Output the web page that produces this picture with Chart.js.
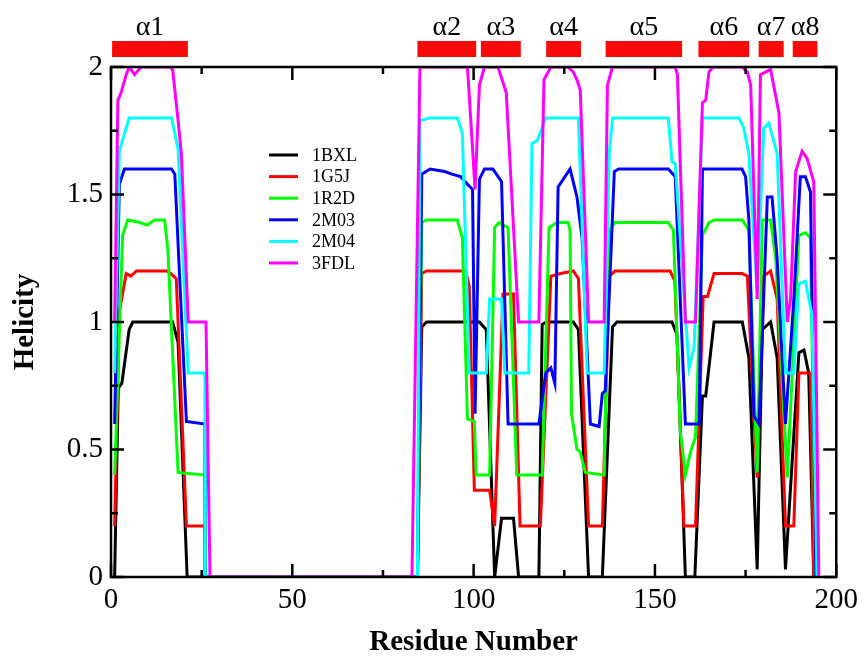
<!DOCTYPE html>
<html>
<head>
<meta charset="utf-8">
<script src="https://cdn.jsdelivr.net/npm/chart.js@4.4.0/dist/chart.umd.min.js"></script>
<style>
    html, body { margin: 0; padding: 0; background: #fff; }
</style>
</head>
<body>
<canvas id="myChart" width="864" height="657"></canvas>
<script>
// helicity per residue, each protein shifted by 0.2
const names = ['1BXL', '1G5J', '1R2D', '2M03', '2M04', '3FDL'];
const colors = ['#000000', '#ff0000', '#00ff00', '#0000ff', '#00ffff', '#ff00ff'];

const res1BXL = [1, 2, 3, 5, 6, 17, 18.5, 21, 84.5, 85.7, 87, 101.6, 103.5, 105.8, 107.7, 111, 112.4, 118, 118.9, 120, 127.5, 128.9, 131.7, 135.5, 138.3, 139.5, 154.7, 156.1, 158.4, 161, 163.1, 164, 166.3, 174.1, 175.9, 178.2, 179.6, 181.9, 183.7, 186, 189.7, 191.1, 192.4, 193.8];
const hel1BXL = [0, 0.74, 0.76, 0.97, 1.0, 1.0, 0.92, 0, 0, 0.98, 1.0, 1.0, 0.97, 0, 0.23, 0.23, 0, 0, 0.99, 1.0, 1.0, 0.97, 0, 0, 0.98, 1.0, 1.0, 0.95, 0, 0, 0.71, 0.71, 1.0, 1.0, 0.86, 0.03, 0.97, 1.0, 0.86, 0.03, 0.88, 0.89, 0.8, 0];

const res1G5J = [1, 2.3, 4.2, 5.5, 7, 15.3, 16.5, 18, 20.8, 25.9, 26, 84.5, 85.7, 87, 97.8, 98.8, 100.2, 104.4, 105.8, 108.1, 111, 112.8, 118.4, 121.3, 124, 127.5, 128.9, 131.7, 135.5, 137.4, 139, 154.2, 155.5, 158, 161.2, 163.3, 164.5, 166.3, 174.1, 175.5, 177.3, 178.2, 180, 181.9, 183.7, 186, 188.3, 189.7, 192.9, 193.8];
const hel1G5J = [0.2, 1.04, 1.19, 1.18, 1.2, 1.2, 1.19, 1.17, 0.2, 0.2, 0, 0, 1.19, 1.2, 1.2, 1.14, 0.34, 0.34, 0.2, 1.11, 1.11, 0.2, 0.2, 1.18, 1.19, 1.2, 1.17, 0.2, 0.2, 1.18, 1.2, 1.2, 1.16, 0.2, 0.2, 1.1, 1.1, 1.19, 1.19, 1.18, 0.63, 0.39, 1.18, 1.2, 1.09, 0.2, 0.2, 0.8, 0.8, 0];

const res1R2D = [1, 3.2, 4.6, 8, 10, 12, 14.8, 15.7, 18.5, 25.9, 26, 84.5, 85.7, 87, 95.5, 96.9, 98.3, 100.2, 100.7, 104.4, 105.8, 107, 109.5, 111.9, 118.9, 120.8, 123, 126.1, 126.6, 127, 128.5, 129.4, 130.8, 136, 137.4, 139, 153.7, 155.1, 157, 158.4, 159.8, 161.2, 163.1, 164.9, 166.3, 174.1, 175.9, 178.2, 179.6, 181.9, 183.3, 186.5, 189.7, 191.5, 192.9, 194.3];
const hel1R2D = [0.4, 1.34, 1.4, 1.39, 1.38, 1.4, 1.4, 1.28, 0.41, 0.4, 0, 0, 1.39, 1.4, 1.4, 1.33, 0.62, 0.61, 0.4, 0.4, 1.37, 1.39, 1.37, 0.4, 0.4, 1.37, 1.39, 1.39, 1.36, 0.64, 0.5, 0.49, 0.41, 0.4, 1.36, 1.39, 1.39, 1.36, 0.57, 0.4, 0.49, 0.55, 1.34, 1.39, 1.4, 1.4, 1.36, 0.41, 1.4, 1.4, 1.25, 0.39, 1.34, 1.35, 1.33, 0];

const res2M03 = [1, 2.3, 3.7, 16.7, 17.6, 20.8, 25.9, 26, 84.5, 85.7, 88, 92, 94, 96.4, 98.3, 99.7, 100.4, 101.6, 103, 105.3, 107.7, 109.5, 118, 119.9, 121.3, 122.4, 123.3, 126.6, 128.5, 129.9, 132.2, 134.6, 135.5, 136.3, 138.8, 140, 153.7, 155.6, 158.4, 162.2, 163.1, 174, 175, 175.9, 177.3, 178.7, 181, 182.3, 183.7, 186, 188.3, 190.1, 191.5, 192.9, 194.4];
const hel2M03 = [0.6, 1.54, 1.6, 1.6, 1.58, 0.61, 0.6, 0, 0, 1.58, 1.6, 1.59, 1.58, 1.57, 1.54, 1.52, 0.64, 1.56, 1.6, 1.6, 1.55, 0.6, 0.6, 0.8, 0.82, 0.76, 1.53, 1.6, 1.49, 1.33, 0.6, 0.59, 0.72, 0.73, 1.59, 1.6, 1.6, 1.57, 0.6, 0.6, 1.6, 1.6, 1.57, 1.4, 0.63, 0.6, 1.49, 1.49, 1.25, 0.6, 1.09, 1.57, 1.57, 1.51, 0];

const res2M04 = [1, 2.3, 5, 16.7, 18.5, 21.3, 25.9, 26, 84.5, 85.2, 88, 95.5, 96.9, 98.8, 103.5, 104.4, 107.7, 108.6, 115.2, 116.1, 117.5, 119.9, 128.9, 131.3, 136, 137.4, 138.3, 153.7, 154.7, 155.6, 159.4, 160.8, 163.1, 173.2, 174.5, 175.9, 178.2, 180, 181.4, 183.7, 186, 188.3, 189.7, 191.5, 193.3, 194.7];
const hel2M04 = [0.8, 1.67, 1.8, 1.8, 1.68, 0.8, 0.8, 0, 0, 1.79, 1.8, 1.8, 1.74, 0.8, 0.8, 1.09, 1.09, 0.8, 0.8, 1.7, 1.71, 1.8, 1.8, 0.8, 0.8, 1.66, 1.8, 1.8, 1.63, 1.62, 0.82, 0.9, 1.8, 1.8, 1.76, 1.66, 1.12, 1.76, 1.78, 1.66, 0.8, 0.8, 1.15, 1.16, 1.03, 0];

const res3FDL = [1, 1.9, 2.8, 4.2, 5, 6.5, 8.3, 16.2, 17, 18.5, 19.4, 21.3, 26.2, 27.3, 83, 85.2, 98.3, 100.4, 101.6, 103, 106.7, 109, 112.4, 118, 119.4, 121.3, 126, 127.5, 128.5, 129.4, 131.7, 136, 136.9, 138.3, 155.6, 156.2, 158.4, 161.2, 163.1, 164, 164.9, 166, 174.1, 175.5, 176.4, 178.2, 179.1, 181.9, 184.2, 186.5, 187.4, 188.8, 190.6, 192, 193.8, 195.2];
const hel3FDL = [1.0, 1.87, 1.9, 1.97, 2.0, 1.97, 2.0, 2.0, 1.99, 1.79, 1.66, 1.0, 1.0, 0, 0, 2.0, 2.0, 1.52, 1.93, 2.0, 2.0, 1.9, 1.0, 1.0, 1.95, 2.0, 2.0, 1.98, 1.95, 1.91, 1.0, 1.0, 1.93, 2.0, 2.0, 1.97, 1.0, 1.0, 1.86, 1.87, 1.98, 2.0, 2.0, 1.98, 1.93, 1.09, 1.97, 1.99, 1.82, 1.0, 1.09, 1.59, 1.67, 1.64, 1.55, 0];

// helix ranges drawn above the plot
const helixLabels = ['α1', 'α2', 'α3', 'α4', 'α5', 'α6', 'α7', 'α8'];
const helixStart = [0.3, 84.5, 102, 120, 136.4, 162, 178.6, 188];
const helixEnd = [21.2, 100.7, 113, 129.6, 157.5, 176, 185.5, 194.8];

const xTicks = [0, 50, 100, 150, 200];
const yTicks = [0, 0.5, 1, 1.5, 2];

const seriesRes = [res1BXL, res1G5J, res1R2D, res2M03, res2M04, res3FDL];
const seriesHel = [hel1BXL, hel1G5J, hel1R2D, hel2M03, hel2M04, hel3FDL];

function toPoints(xs, ys) {
    return xs.map((x, i) => ({ x: x, y: ys[i] }));
}

const graceFrame = {
    id: 'graceFrame',
    afterDraw(chart) {
        const ctx = chart.ctx;
        const xs = chart.scales.x;
        const ys = chart.scales.y;
        const area = chart.chartArea;

        ctx.save();
        ctx.strokeStyle = '#000';
        ctx.lineWidth = 2.5;
        ctx.strokeRect(area.left, area.top, area.right - area.left, area.bottom - area.top);

        // inward ticks on all four sides
        ctx.lineWidth = 2.5;
        ctx.beginPath();
        for (let v = 0; v <= 200; v += 25) {
            const px = xs.getPixelForValue(v);
            const len = v % 50 === 0 ? 13 : 7;
            ctx.moveTo(px, area.bottom); ctx.lineTo(px, area.bottom - len);
            ctx.moveTo(px, area.top); ctx.lineTo(px, area.top + len);
        }
        for (let v = 0; v <= 2.0001; v += 0.25) {
            const py = ys.getPixelForValue(v);
            const len = Math.abs(v * 2 - Math.round(v * 2)) < 0.001 ? 13 : 7;
            ctx.moveTo(area.left, py); ctx.lineTo(area.left + len, py);
            ctx.moveTo(area.right, py); ctx.lineTo(area.right - len, py);
        }
        ctx.stroke();

        // helix bars and labels
        ctx.font = '28px "Liberation Serif", serif';
        ctx.textAlign = 'center';
        ctx.textBaseline = 'alphabetic';
        helixLabels.forEach((lab, i) => {
            const x0 = xs.getPixelForValue(helixStart[i]);
            const x1 = xs.getPixelForValue(helixEnd[i]);
            ctx.fillStyle = '#f60a0a';
            ctx.fillRect(x0, 41, x1 - x0, 16);
            ctx.fillStyle = '#000';
            ctx.fillText(lab, (x0 + x1) / 2, 35);
        });

        // legend
        ctx.font = '18px "Liberation Serif", serif';
        ctx.textAlign = 'left';
        ctx.textBaseline = 'middle';
        chart.data.datasets.forEach((ds, i) => {
            const y = 155 + i * 21.6;
            ctx.strokeStyle = ds.borderColor;
            ctx.lineWidth = 3;
            ctx.beginPath();
            ctx.moveTo(269, y);
            ctx.lineTo(298, y);
            ctx.stroke();
            ctx.fillStyle = '#000';
            ctx.fillText(ds.label, 312, y + 1);
        });
        ctx.restore();
    }
};

function buildGraphic() {
    const ctx = document.getElementById('myChart').getContext('2d');

    const datasets = names.map((name, i) => ({
        label: name,
        data: toPoints(seriesRes[i], seriesHel[i]),
        borderColor: colors[i],
        backgroundColor: colors[i],
        borderWidth: 3,
        pointRadius: 0,
        tension: 0,
        fill: false,
        order: names.length - i
    }));

    const config = {
        type: 'line',
        data: { datasets: datasets },
        options: {
            responsive: false,
            animation: false,
            devicePixelRatio: 1,
            layout: {
                padding: { top: 67, right: 24, left: 0, bottom: 0 }
            },
            plugins: {
                legend: { display: false },
                tooltip: { enabled: false }
            },
            scales: {
                x: {
                    type: 'linear',
                    min: 0,
                    max: 200,
                    afterBuildTicks: (scale) => {
                        scale.ticks = xTicks.map(v => ({ value: v }));
                    },
                    afterFit: (scale) => { scale.height = 80; },
                    grid: { display: false, drawTicks: false },
                    border: { display: false },
                    ticks: {
                        padding: 6,
                        color: '#000',
                        maxRotation: 0,
                        font: { family: '"Liberation Serif", serif', size: 29 }
                    },
                    title: {
                        display: true,
                        text: 'Residue Number',
                        color: '#000',
                        padding: { top: 0, bottom: -3 },
                        font: { family: '"Liberation Serif", serif', size: 29, weight: 'bold' }
                    }
                },
                y: {
                    type: 'linear',
                    min: 0,
                    max: 2,
                    afterBuildTicks: (scale) => {
                        scale.ticks = yTicks.map(v => ({ value: v }));
                    },
                    afterFit: (scale) => { scale.width = 111; },
                    grid: { display: false, drawTicks: false },
                    border: { display: false },
                    ticks: {
                        padding: 8,
                        color: '#000',
                        callback: (v) => String(v),
                        font: { family: '"Liberation Serif", serif', size: 29 }
                    },
                    title: {
                        display: true,
                        text: 'Helicity',
                        color: '#000',
                        padding: { top: 8, bottom: 0 },
                        font: { family: '"Liberation Serif", serif', size: 29, weight: 'bold' }
                    }
                }
            }
        },
        plugins: [graceFrame]
    };

    const myChart = new Chart(ctx, config);
}

buildGraphic();
</script>
</body>
</html>
